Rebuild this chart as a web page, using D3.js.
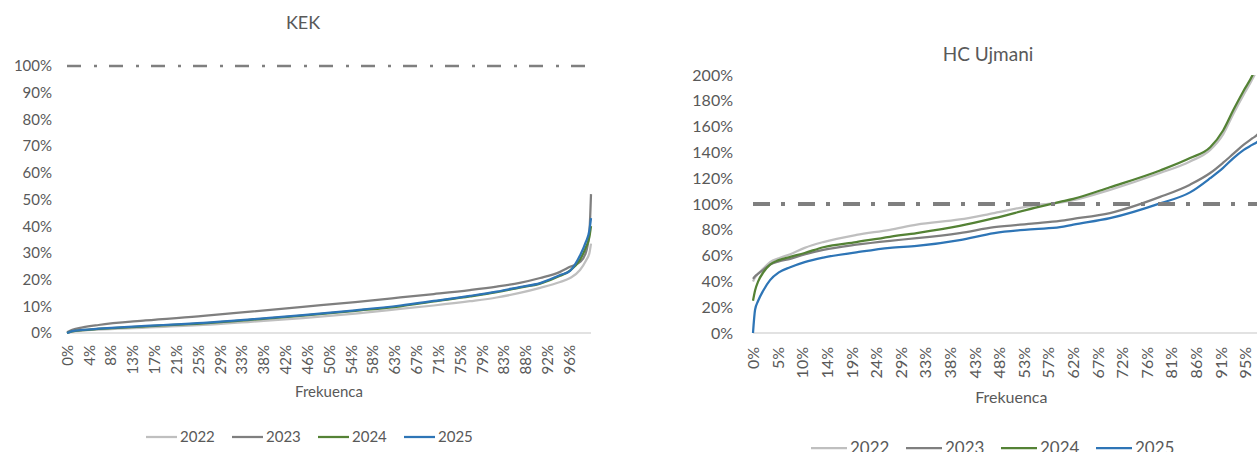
<!DOCTYPE html>
<html>
<head>
<meta charset="utf-8">
<script src="https://cdn.jsdelivr.net/npm/d3@7"></script>
<style>
  body { margin: 0; background: #fff; }
  svg { display: block; font-family: Lato, "Open Sans", sans-serif; }
</style>
</head>
<body>
<svg id="chart" width="1257" height="452"></svg>
<script>
// ---- data (values in %) ----
const years = ['2022', '2023', '2024', '2025'];

// KEK: duration-style curves, frequency 0..1
const kekFreq = [0, 0.01, 0.03, 0.06, 0.15, 0.26, 0.35, 0.45, 0.55, 0.636, 0.70, 0.769, 0.82, 0.864, 0.903, 0.941, 0.96, 0.979, 0.99, 0.997, 1];
const kek2022 = [0, 0.5, 0.9, 1.3, 2.0, 3.0, 4.2, 5.6, 7.3, 9.0, 10.3, 11.9, 13.3, 15.0, 16.9, 19.1, 20.6, 23.6, 27.0, 30.0, 33.5];
const kek2023 = [0.3, 1.2, 2.1, 3.0, 4.7, 6.4, 8.0, 9.8, 11.6, 13.3, 14.6, 16.1, 17.4, 18.8, 20.6, 22.9, 24.8, 26.6, 30.0, 38.0, 52.0];
const kek2024 = [0, 0.6, 1.1, 1.5, 2.5, 3.6, 4.9, 6.5, 8.3, 10.0, 11.8, 13.7, 15.3, 17.0, 18.5, 21.4, 23.4, 27.5, 32.0, 36.0, 40.0];
const kek2025 = [0, 0.7, 1.2, 1.6, 2.7, 3.8, 5.1, 6.7, 8.5, 10.3, 12.0, 13.9, 15.5, 17.2, 18.7, 21.7, 23.3, 29.0, 34.0, 38.5, 43.0];
const kekTicks = ['0%', '4%', '8%', '13%', '17%', '21%', '25%', '29%', '33%', '38%', '42%', '46%', '50%', '54%', '58%', '63%', '67%', '71%', '75%', '79%', '83%', '88%', '92%', '96%'];
const kekYTicks = [0, 10, 20, 30, 40, 50, 60, 70, 80, 90, 100];

// HC Ujmani
const ujmFreq = [0, 0.004, 0.01, 0.02, 0.033, 0.05, 0.072, 0.10, 0.136, 0.20, 0.265, 0.317, 0.40, 0.467, 0.545, 0.594, 0.62, 0.691, 0.788, 0.846, 0.885, 0.91, 0.93, 0.95, 0.967, 0.977, 1];
const ujm2022 = [40, 43, 46, 50, 55, 58, 61, 66, 70.5, 76, 80, 84, 88, 93, 99, 101, 103, 111, 124, 133, 142, 154, 170, 185, 197, 206, 260];
const ujm2023 = [42, 44, 46, 49, 53, 55.5, 57.5, 61, 64.5, 68.5, 71.5, 73.5, 77.5, 82, 85, 87, 88.5, 93, 105.5, 115, 124, 132, 139, 146, 151, 154, 175];
const ujm2024 = [25, 33, 40, 47, 53, 56.5, 59, 62, 66.5, 70.5, 74.6, 77.5, 83, 89, 97, 101.6, 104, 113, 126, 135.6, 144, 157, 173, 188, 200, 210, 270];
const ujm2025 = [0, 18, 25, 33, 41, 47, 51, 55, 58.5, 62.5, 66, 67.5, 72, 77.5, 80.5, 82, 84, 89, 100.5, 109, 120, 128, 135.6, 142, 146, 148.5, 165];
const ujmTicks = ['0%', '5%', '10%', '14%', '19%', '24%', '29%', '33%', '38%', '43%', '48%', '53%', '57%', '62%', '67%', '72%', '76%', '81%', '86%', '91%', '95%'];
const ujmYTicks = [0, 20, 40, 60, 80, 100, 120, 140, 160, 180, 200];

const seriesColors = ['#BFBFBF', '#7F7F7F', '#548235', '#2E75B6'];
const textColor = '#595959';
const fontStack = 'Lato, "Open Sans", sans-serif';

const svg = d3.select('#chart');
svg.append('rect').attr('width', 1257).attr('height', 452).attr('fill', '#fff');

// Draw one panel.
function drawPanel(cfg) {
  const g = svg.append('g');
  const x = d3.scaleLinear().domain([0, 1]).range([cfg.left, cfg.right]);
  const y = d3.scaleLinear().domain([0, cfg.yMax]).range([cfg.bottom, cfg.top]);

  const clipId = 'clip-' + cfg.id;
  g.append('clipPath').attr('id', clipId)
    .append('rect')
    .attr('x', cfg.left - 2).attr('y', cfg.top)
    .attr('width', cfg.right - cfg.left + 4).attr('height', cfg.bottom - cfg.top + 2);

  // title
  g.append('text')
    .attr('x', cfg.titleX).attr('y', cfg.titleY)
    .attr('text-anchor', 'middle')
    .style('font-size', cfg.titleSize + 'px')
    .attr('fill', textColor)
    .text(cfg.title);

  // y axis labels
  const yAxis = d3.axisLeft(y).tickValues(cfg.yTicks).tickSize(0).tickPadding(0)
    .tickFormat(d => d + '%');
  const yg = g.append('g').attr('transform', `translate(${cfg.yLabelX},0)`).call(yAxis);
  yg.select('.domain').remove();
  yg.selectAll('text').attr('fill', textColor).style('font-size', cfg.fontSize + 'px')
    .style('font-family', fontStack);

  // bottom axis line + rotated category labels
  const tickPos = cfg.ticks.map((t, i) => i / cfg.tickDiv);
  const xAxis = d3.axisBottom(x).tickValues(tickPos).tickSize(0).tickPadding(0)
    .tickFormat((d, i) => cfg.ticks[i]);
  const xg = g.append('g').attr('transform', `translate(0,${cfg.bottom})`).call(xAxis);
  xg.select('.domain').attr('stroke', '#D9D9D9').attr('stroke-width', 1.5)
    .attr('d', `M${cfg.left},0H${cfg.axisEnd}`);
  xg.selectAll('text')
    .attr('fill', textColor)
    .style('font-size', cfg.fontSize + 'px')
    .style('font-family', fontStack)
    .attr('text-anchor', 'end')
    .attr('transform', `translate(0,${cfg.labelTop - cfg.bottom}) rotate(-90)`)
    .attr('x', 0).attr('y', 0).attr('dy', '0.35em');

  // axis title
  g.append('text')
    .attr('x', (cfg.left + cfg.right) / 2).attr('y', cfg.axisTitleY)
    .attr('text-anchor', 'middle')
    .style('font-size', cfg.fontSize + 'px')
    .attr('fill', textColor)
    .text('Frekuenca');

  // series
  const line = d3.line()
    .x(d => x(d[0])).y(d => y(d[1]))
    .curve(d3.curveMonotoneX);
  const lines = g.append('g').attr('clip-path', `url(#${clipId})`);
  cfg.series.forEach((vals, i) => {
    const pts = cfg.freq.map((f, j) => [f, vals[j]]);
    lines.append('path')
      .attr('d', line(pts))
      .attr('fill', 'none')
      .attr('stroke', seriesColors[i])
      .attr('stroke-width', 2.25)
      .attr('stroke-linejoin', 'round');
  });

  // 100% reference line (long dash dot)
  g.append('line')
    .attr('x1', cfg.left).attr('x2', cfg.axisEnd)
    .attr('y1', y(100)).attr('y2', y(100))
    .attr('stroke', '#7F7F7F')
    .attr('stroke-width', cfg.refWidth)
    .attr('stroke-dasharray', cfg.refDash);

  // legend
  const lg = g.append('g').attr('transform', `translate(${cfg.legendX},${cfg.legendY})`);
  years.forEach((yr, i) => {
    const item = lg.append('g').attr('transform', `translate(${i * cfg.legendStep},0)`);
    item.append('line').attr('x1', 0).attr('x2', cfg.legendLine).attr('y1', 0).attr('y2', 0)
      .attr('stroke', seriesColors[i]).attr('stroke-width', 2.25);
    item.append('text').attr('x', cfg.legendLine + 3).attr('y', 0).attr('dy', '0.35em')
      .style('font-size', cfg.legendSize + 'px').attr('fill', textColor).text(yr);
  });
}

drawPanel({
  id: 'kek', title: 'KEK', titleX: 303, titleY: 29, titleSize: 18,
  left: 67, right: 591, axisEnd: 591, top: 66, bottom: 333, yMax: 100,
  yTicks: kekYTicks, yLabelX: 52, fontSize: 15,
  ticks: kekTicks, tickDiv: 24, labelTop: 345, axisTitleY: 397,
  freq: kekFreq, series: [kek2022, kek2023, kek2024, kek2025],
  refWidth: 2.5, refDash: '14 13 3 12',
  legendX: 146, legendY: 437, legendStep: 86, legendLine: 31, legendSize: 15
});

drawPanel({
  id: 'ujm', title: 'HC Ujmani', titleX: 988, titleY: 61, titleSize: 19,
  left: 753, right: 1269.6, axisEnd: 1269.6, top: 75, bottom: 333, yMax: 200,
  yTicks: ujmYTicks, yLabelX: 733, fontSize: 16,
  ticks: ujmTicks, tickDiv: 21, labelTop: 347, axisTitleY: 403,
  freq: ujmFreq, series: [ujm2022, ujm2023, ujm2024, ujm2025],
  refWidth: 4, refDash: '17 11 4 13',
  legendX: 811, legendY: 448, legendStep: 95, legendLine: 36, legendSize: 17
});
</script>
</body>
</html>
